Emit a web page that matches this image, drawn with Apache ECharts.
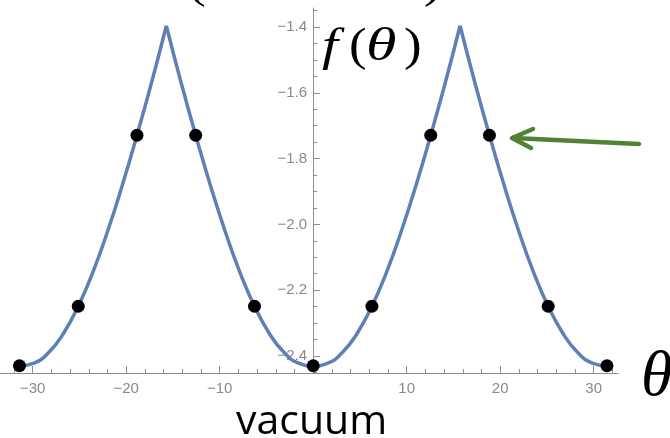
<!DOCTYPE html>
<html>
<head>
<meta charset="utf-8">
<script src="https://cdn.jsdelivr.net/npm/echarts@6/dist/echarts.min.js"></script>
<style>
html,body{margin:0;padding:0;background:#fff;}
#chart{width:670px;height:438px;}
</style>
</head>
<body>
<div id="chart"></div>
<script>
// theta sample points (step ~ pi/2) and read-off values of f(theta)
const thetaGrid = [-31.42,-29.85,-28.27,-26.70,-25.13,-23.56,-21.99,-20.42,-18.85,-17.28,-15.71,
  -14.14,-12.57,-11.00,-9.42,-7.85,-6.28,-4.71,-3.14,-1.57,0,
  1.57,3.14,4.71,6.28,7.85,9.42,11.00,12.57,14.14,15.71,
  17.28,18.85,20.42,21.99,23.56,25.13,26.70,28.27,29.85,31.42];
const fValues = [-2.430,-2.422,-2.389,-2.331,-2.249,-2.145,-2.021,-1.881,-1.729,-1.568,-1.396,
  -1.568,-1.729,-1.881,-2.021,-2.145,-2.249,-2.331,-2.389,-2.422,-2.430,
  -2.422,-2.389,-2.331,-2.249,-2.145,-2.021,-1.881,-1.729,-1.568,-1.396,
  -1.568,-1.729,-1.881,-2.021,-2.145,-2.249,-2.331,-2.389,-2.422,-2.430];
const cuspTheta = [-15.71, 15.71];
// black dots
const dotTheta = [-31.42,-25.13,-18.85,-12.57,-6.28,0,6.28,12.57,18.85,25.13,31.42];
const dotF = [-2.430,-2.249,-1.729,-1.729,-2.249,-2.430,-2.249,-1.729,-1.729,-2.249,-2.430];
// ticks
const xMajor = [-30,-20,-10,10,20,30];
const xMinor = [-32,-28,-26,-24,-22,-18,-16,-14,-12,-8,-6,-4,-2,2,4,6,8,12,14,16,18,22,24,26,28,32];
const yMajor = [-2.4,-2.2,-2.0,-1.8,-1.6,-1.4];
const yMinor = [-2.45,-2.35,-2.3,-2.25,-2.15,-2.1,-2.05,-1.95,-1.9,-1.85,-1.75,-1.7,-1.65,-1.55,-1.5,-1.45,-1.35];

const X_MIN = -33.5, X_MAX = 32.6, Y_MIN = -2.452, Y_MAX = -1.342;

// split the curve at the cusps so that each branch is smoothed separately
const segments = [];
let cur = [];
for (let i = 0; i < thetaGrid.length; i++) {
  cur.push([thetaGrid[i], fValues[i]]);
  if (cuspTheta.indexOf(thetaGrid[i]) >= 0) {
    segments.push(cur);
    cur = [[thetaGrid[i], fValues[i]]];
  }
}
segments.push(cur);

const axisGray = '#8f8f8f';
const labelStyle = {color: '#8a8a8a', fontSize: 15, fontFamily: 'Liberation Sans, Arial, sans-serif'};
const fmt = v => (v < 0 ? '\u2212' : '') + Math.abs(v);
const fmtY = v => {
  const s = Math.abs(v).toFixed(1);
  return (v < 0 ? '\u2212' : '') + s;
};

const chart = echarts.init(document.getElementById('chart'), null, {renderer: 'canvas'});

const series = segments.map(seg => ({
  type: 'line', data: seg, smooth: 0.5, showSymbol: false, silent: true,
  xAxisIndex: 0, yAxisIndex: 0,
  lineStyle: {color: '#5e81b5', width: 3.5}, z: 2
}));
series.push({
  type: 'scatter', data: dotTheta.map((t, i) => [t, dotF[i]]),
  symbolSize: 13, itemStyle: {color: '#000', opacity: 1}, silent: true, z: 5,
  xAxisIndex: 0, yAxisIndex: 0
});

const serif = '"Liberation Serif", "DejaVu Serif", serif';
function glyph(ch, left, top, size, italic, sx) {
  return {type: 'text', left: left, top: top, scaleX: sx || 1,
    style: {text: ch, font: (italic ? 'italic ' : '') + size + 'px ' + serif, fill: '#000'}};
}

chart.setOption({
  animation: false,
  backgroundColor: '#fff',
  grid: [
    {left: 0, right: 52, top: 8, bottom: 65, containLabel: false, outerBoundsMode: 'none'},
    {left: 313, width: 1, top: 8, bottom: 65, containLabel: false, outerBoundsMode: 'none'}
  ],
  xAxis: [
    {type: 'value', gridIndex: 0, min: X_MIN, max: X_MAX, position: 'bottom',
     axisLine: {show: true, onZero: false, lineStyle: {color: axisGray, width: 1}},
     axisTick: {show: true, inside: true, length: 7, customValues: xMajor, lineStyle: {color: axisGray}},
     axisLabel: Object.assign({customValues: xMajor, margin: 8, formatter: fmt}, labelStyle),
     splitLine: {show: false}},
    {type: 'value', gridIndex: 0, min: X_MIN, max: X_MAX, position: 'bottom',
     axisLine: {show: false, onZero: false},
     axisTick: {show: true, inside: true, length: 4, customValues: xMinor, lineStyle: {color: axisGray}},
     axisLabel: {show: false}, splitLine: {show: false}},
    {type: 'value', gridIndex: 1, min: 0, max: 1, show: false}
  ],
  yAxis: [
    {type: 'value', gridIndex: 0, min: Y_MIN, max: Y_MAX, show: false},
    {type: 'value', gridIndex: 1, min: Y_MIN, max: Y_MAX, position: 'left',
     axisLine: {show: true, onZero: false, lineStyle: {color: axisGray, width: 1}},
     axisTick: {show: true, inside: true, length: 7, customValues: yMajor, lineStyle: {color: axisGray}},
     axisLabel: Object.assign({customValues: yMajor, margin: 6, formatter: fmtY}, labelStyle),
     splitLine: {show: false}},
    {type: 'value', gridIndex: 1, min: Y_MIN, max: Y_MAX, position: 'left',
     axisLine: {show: false, onZero: false},
     axisTick: {show: true, inside: true, length: 4, customValues: yMinor, lineStyle: {color: axisGray}},
     axisLabel: {show: false}, splitLine: {show: false}}
  ],
  series: series,
  graphic: [
    // f(θ) label
    glyph('f', 322, 25, 46, true, 1.25),
    glyph('(', 349, 25, 46, false, 1.15),
    glyph('\u03b8', 366, 25, 46, true, 1.35),
    glyph(')', 404, 25, 46, false, 1.15),
    // cut-off parentheses at the top
    glyph('(', 188, -38, 46, false, 1.15),
    glyph(')', 424, -38, 46, false, 1.15),
    // θ axis label
    glyph('\u03b8', 641, 346, 64, true, 1),
    // vacuum
    {type: 'text', left: 236, top: 402, style: {text: 'vacuum', font: '41px "Open Sans", sans-serif', fill: '#000'}},
    // green arrow
    {type: 'polyline', shape: {points: [[639, 144], [513, 138]]}, style: {stroke: '#548235', lineWidth: 4.5, lineCap: 'round'}},
    {type: 'polyline', shape: {points: [[533, 129], [512, 138], [531, 148]]}, style: {stroke: '#548235', lineWidth: 4.5, lineCap: 'round', lineJoin: 'round', fill: null}}
  ]
});

// place the y axis at theta = 0 using the library's x scale
const zeroX = chart.convertToPixel({xAxisIndex: 0}, 0);
chart.setOption({grid: [{}, {left: zeroX}]});
</script>
</body>
</html>
